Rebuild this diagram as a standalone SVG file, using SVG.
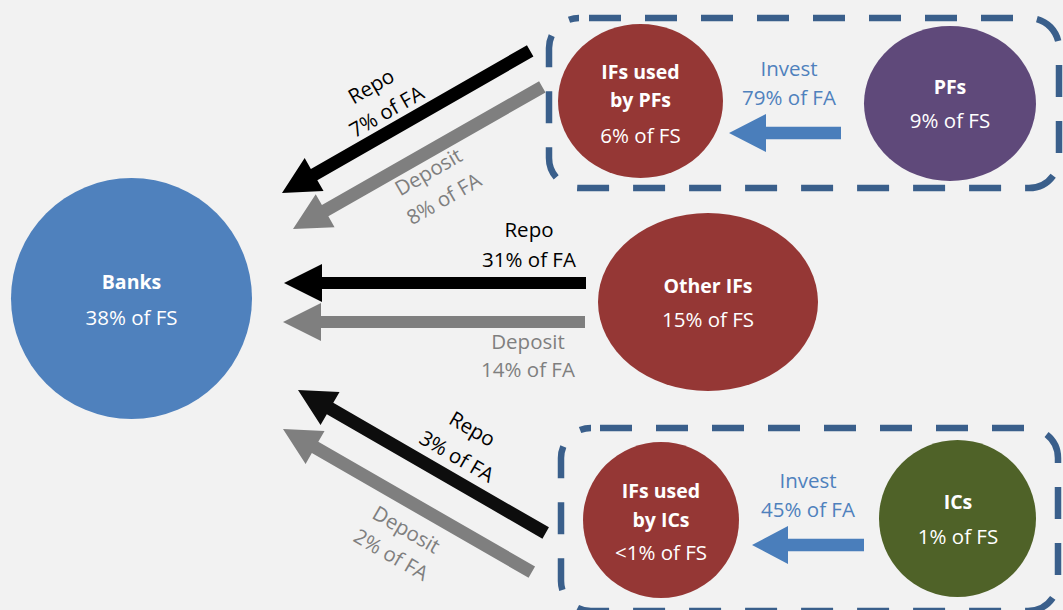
<svg xmlns="http://www.w3.org/2000/svg" width="1063" height="610" viewBox="0 0 1063 610">
<style>
text{font-family:"Open Sans","Liberation Sans",sans-serif;font-size:20.5px;text-anchor:middle}
.b{font-weight:bold;font-size:19.5px}
.w{fill:#ffffff}
.k{fill:#000000}
.g{fill:#7f7f7f}
.bl{fill:#4f81bd}
.box{fill:none;stroke:#3a5f8b;stroke-width:6.5;stroke-dasharray:32 24}
.red{fill:#953735}
</style>
<rect x="0" y="0" width="1063" height="610" fill="#f2f2f2"/>
<g id="group-pfs">
<rect class="box" x="549" y="18" width="510" height="170" rx="30" ry="30" stroke-dashoffset="46"/>
</g>
<g id="group-ics">
<rect class="box" x="561" y="428" width="497" height="183" rx="30" ry="30" stroke-dashoffset="47"/>
</g>
<g id="connectors">
<path d="M0,0 L37,-19 L37,-6.5 L286,-6.5 L286,6.5 L37,6.5 L37,19 Z" fill="#000000" transform="translate(282,193) rotate(-29.8)"/>
<path d="M0,0 L37,-19 L37,-6.5 L287,-6.5 L287,6.5 L37,6.5 L37,19 Z" fill="#7f7f7f" transform="translate(293,229) rotate(-29.7)"/>
<path d="M0,0 L38,-19 L38,-6 L302,-6 L302,6 L38,6 L38,19 Z" fill="#000000" transform="translate(284,283)"/>
<path d="M0,0 L38,-19 L38,-6 L302,-6 L302,6 L38,6 L38,19 Z" fill="#7f7f7f" transform="translate(283,322)"/>
<path d="M0,0 L37,-19 L37,-6.5 L286,-6.5 L286,6.5 L37,6.5 L37,19 Z" fill="#0d0d0d" transform="translate(298,390) rotate(30)"/>
<path d="M0,0 L37,-19 L37,-6.5 L287,-6.5 L287,6.5 L37,6.5 L37,19 Z" fill="#7f7f7f" transform="translate(283,429) rotate(29.9)"/>
<path d="M0,0 L37,-19 L37,-6.3 L112,-6.3 L112,6.3 L37,6.3 L37,19 Z" fill="#4a7ebb" transform="translate(729,133)"/>
<path d="M0,0 L36,-19 L36,-6.3 L112,-6.3 L112,6.3 L36,6.3 L36,19 Z" fill="#4a7ebb" transform="translate(752,545)"/>
<text class="k" transform="translate(371.7,87.3) rotate(-30)" y="6">Repo</text>
<text class="k" transform="translate(386.7,111.7) rotate(-30)" y="7">7% of FA</text>
<text class="g" transform="translate(429,173) rotate(-30)" y="6">Deposit</text>
<text class="g" transform="translate(444,199) rotate(-30)" y="7">8% of FA</text>
<text class="k" x="529" y="237">Repo</text>
<text class="k" x="529" y="267">31% of FA</text>
<text class="g" x="528" y="349">Deposit</text>
<text class="g" x="528" y="377">14% of FA</text>
<text class="k" transform="translate(471.7,430) rotate(30)" y="6">Repo</text>
<text class="k" transform="translate(456.7,456.7) rotate(30)" y="7">3% of FA</text>
<text class="g" transform="translate(405.7,530.7) rotate(30)" y="6">Deposit</text>
<text class="g" transform="translate(391,555) rotate(30)" y="7">2% of FA</text>
<text class="bl" x="789" y="76">Invest</text>
<text class="bl" x="789" y="105">79% of FA</text>
<text class="bl" x="808" y="488">Invest</text>
<text class="bl" x="808" y="517">45% of FA</text>
</g>
<g id="banks">
<circle cx="131.5" cy="298.5" r="120.5" fill="#4f81bd"/>
<text class="w b" x="131.5" y="289">Banks</text>
<text class="w" x="131.5" y="325">38% of FS</text>
</g>
<g id="ifs-pfs">
<ellipse class="red" cx="640.5" cy="101" rx="82.5" ry="77"/>
<text class="w b" x="640.5" y="79">IFs used</text>
<text class="w b" x="640.5" y="107">by PFs</text>
<text class="w" x="640.5" y="143">6% of FS</text>
</g>
<g id="pfs">
<ellipse cx="950" cy="103.5" rx="86" ry="77.5" fill="#5f497a"/>
<text class="w b" x="950" y="94">PFs</text>
<text class="w" x="950" y="128">9% of FS</text>
</g>
<g id="other-ifs">
<ellipse class="red" cx="708" cy="302" rx="110" ry="89"/>
<text class="w b" x="708" y="293">Other IFs</text>
<text class="w" x="708" y="327">15% of FS</text>
</g>
<g id="ifs-ics">
<circle class="red" cx="661" cy="520" r="78"/>
<text class="w b" x="661" y="498">IFs used</text>
<text class="w b" x="661" y="527">by ICs</text>
<text class="w" x="661" y="560">&lt;1% of FS</text>
</g>
<g id="ics">
<circle cx="957.5" cy="518.5" r="78.5" fill="#4f6228"/>
<text class="w b" x="958" y="509">ICs</text>
<text class="w" x="958" y="544">1% of FS</text>
</g>
</svg>
